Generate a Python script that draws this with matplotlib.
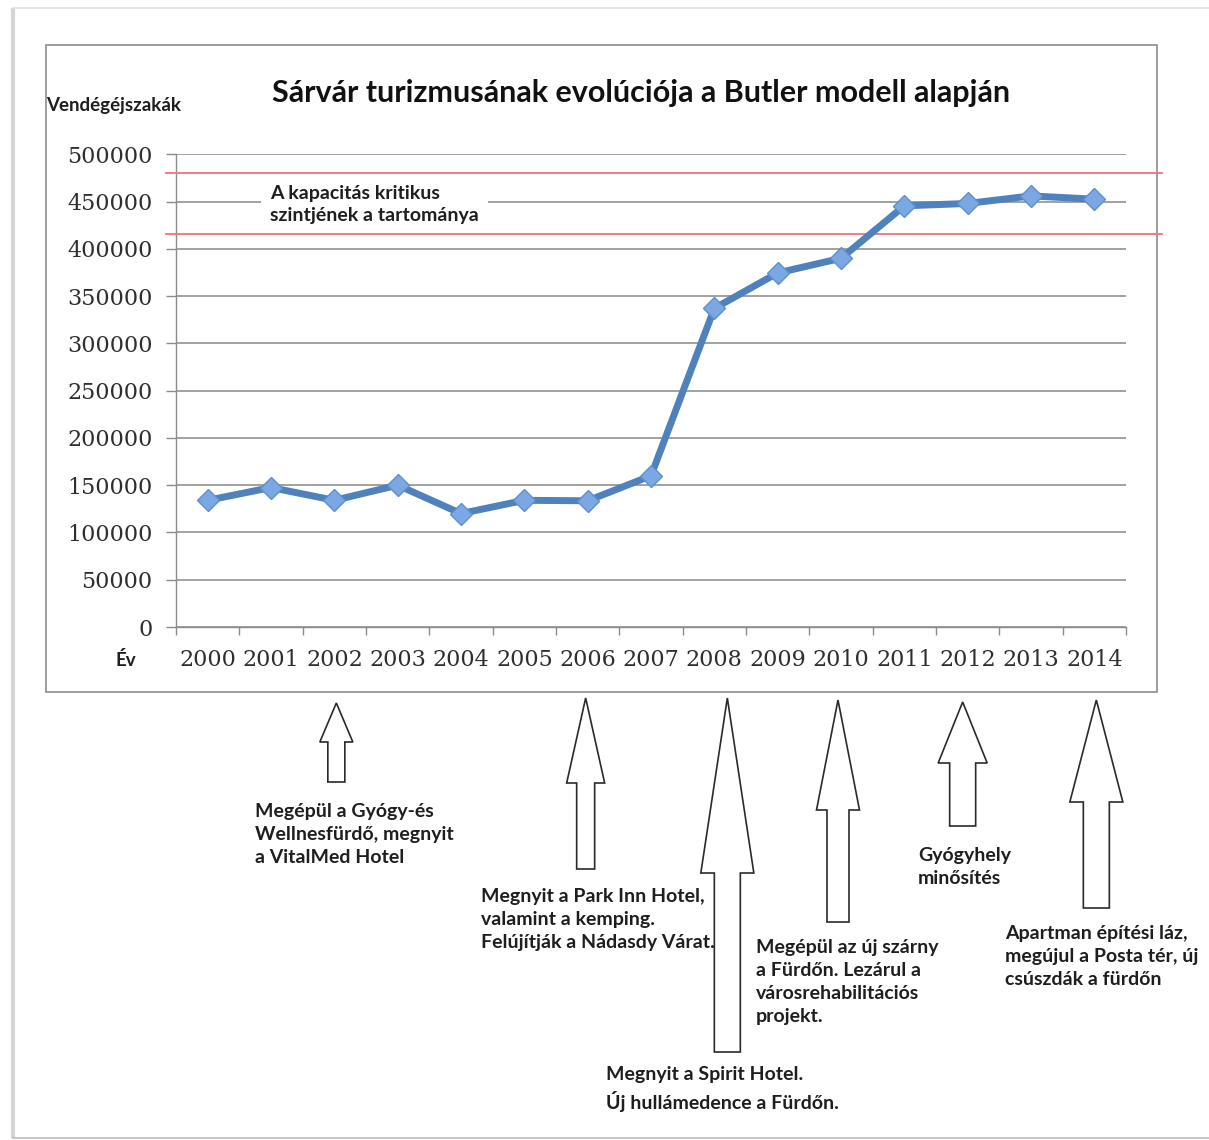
import matplotlib.pyplot as plt
from matplotlib.patches import Polygon, Rectangle
from matplotlib.transforms import blended_transform_factory

# Data
years = ['2000', '2001', '2002', '2003', '2004', '2005', '2006', '2007',
         '2008', '2009', '2010', '2011', '2012', '2013', '2014']
guest_nights = [134000, 147500, 134000, 150000, 120000, 134000, 133500, 160000,
                337000, 374500, 390000, 445500, 448000, 456000, 452500]
capacity_low = 415500
capacity_high = 480000
y_ticks = [0, 50000, 100000, 150000, 200000, 250000, 300000, 350000, 400000, 450000, 500000]

# Events below the chart
event_years = ['2002', '2006', '2008', '2010', '2012', '2014']
event_texts = [
    'Megépül a Gyógy-és\nWellnesfürdő, megnyit\na VitalMed Hotel',
    'Megnyit a Park Inn Hotel,\nvalamint a kemping.\nFelújítják a Nádasdy Várat.',
    'Megnyit a Spirit Hotel.\nÚj hullámedence a Fürdőn.',
    'Megépül az új szárny\na Fürdőn. Lezárul a\nvárosrehabilitációs\nprojekt.',
    'Gyógyhely\nminősítés',
    'Apartman építési láz,\nmegújul a Posta tér, új\ncsúszdák a fürdőn',
]

W, H = 1209, 1140
SANS = ['Lato', 'DejaVu Sans']
TXT = '#1e1e1e'

fig = plt.figure(figsize=(W / 100, H / 100), dpi=100)

# pixel overlay for frames, arrows and notes
ov = fig.add_axes([0, 0, 1, 1], zorder=0)
ov.set_xlim(0, W)
ov.set_ylim(H, 0)
ov.axis('off')

# outer picture frame
ov.plot([13, 13], [8, 1138], color='#d4d4d4', lw=3, solid_capstyle='butt')
ov.plot([13, W], [8, 8], color='#e2e2e2', lw=1.2)
ov.plot([13, W], [1138, 1138], color='#c8c8c8', lw=1.5)
# chart border
ov.add_patch(Rectangle((46, 45), 1111, 647, fill=False, ec='#8c8c8c', lw=1.2))

ax = fig.add_axes([176 / W, 1 - 627 / H, 950 / W, 472.7 / H], zorder=2)
ax.set_facecolor('none')
x = list(range(len(years)))

ax.set_ylim(0, 500000)
ax.set_xlim(-0.5, len(years) - 0.5)
ax.set_yticks(y_ticks)
ax.set_yticklabels([str(v) for v in y_ticks])
ax.set_xticks(x)
ax.set_xticklabels(years)
ax.set_xticks([i - 0.5 for i in range(len(years) + 1)], minor=True)
ax.tick_params(axis='x', which='major', length=0, pad=16)
ax.tick_params(axis='x', which='minor', length=6, color='#8c8c8c', width=1)
ax.tick_params(axis='y', length=7, color='#8c8c8c', width=1, pad=10)
for lab in ax.get_xticklabels() + ax.get_yticklabels():
    lab.set_fontfamily('DejaVu Serif')
    lab.set_fontsize(16)
    lab.set_color('#2e2e2e')

ax.grid(axis='y', color='#9a9a9a', lw=1.3)
ax.set_axisbelow(True)
for s in ['top', 'right']:
    ax.spines[s].set_visible(False)
for s in ['left', 'bottom']:
    ax.spines[s].set_color('#8c8c8c')
    ax.spines[s].set_linewidth(1)

# critical capacity band lines (stretch past the plot area)
trans = blended_transform_factory(fig.transFigure, ax.transData)
for lvl in [capacity_high, capacity_low]:
    ax.plot([166 / W, 1162 / W], [lvl, lvl], color='#f2707c', lw=1.3,
            transform=trans, clip_on=False, zorder=3)

band_trans = blended_transform_factory(ax.transAxes, ax.transData)
ax.text(0.099, 447000, 'A kapacitás kritikus\nszintjének a tartománya',
        transform=band_trans, fontsize=14, fontweight='bold', family=SANS, color=TXT,
        va='center', ha='left', linespacing=1.4, zorder=4,
        bbox=dict(boxstyle='square,pad=0.45', fc='white', ec='none'))

ax.plot(x, guest_nights, color='#4f81bd', lw=5, marker='D', ms=11,
        mfc='#7ba7e3', mec='#5d8fd2', mew=1, zorder=5)

fig.text(641 / W, 1 - 93 / H, 'Sárvár turizmusának evolúciója a Butler modell alapján',
         fontsize=22, fontweight='bold', family=SANS, ha='center', va='center', color='#111111')
fig.text(46 / W, 1 - 105 / H, 'Vendégéjszakák', fontsize=13.5, fontweight='bold',
         family=SANS, ha='left', va='center', color=TXT)
fig.text(126 / W, 1 - 660 / H, 'Év', fontsize=13.5, fontweight='bold',
         family=SANS, ha='center', va='center', color=TXT)

# arrows: (x offset px, tip y, head base y, head half width, shaft half width, bottom y)
arrow_shapes = [
    (2, 703, 742, 16.5, 8.5, 782),
    (-2, 698, 783, 19, 9, 869),
    (13, 698, 873, 26.5, 13, 1052),
    (-3, 700, 810, 21.5, 11, 922),
    (-5, 702, 763, 24.5, 13, 826),
    (2, 700, 802, 26.5, 13, 908),
]
note_pos = [(255, 803), (481, 888), (606, 1066), (756, 939), (918, 847), (1005, 925)]

fig.canvas.draw()
for yr, shp, txt, (tx, ty) in zip(event_years, arrow_shapes, event_texts, note_pos):
    cx = ax.transData.transform((years.index(yr), 0))[0] + shp[0]
    tip, hb, hw, sw, bt = shp[1:]
    pts = [(cx, tip), (cx + hw, hb), (cx + sw, hb), (cx + sw, bt),
           (cx - sw, bt), (cx - sw, hb), (cx - hw, hb)]
    ov.add_patch(Polygon(pts, closed=True, fc='white', ec='#2a2a2a', lw=1.2))
    ov.text(tx, ty, txt, fontsize=14, fontweight='bold', family=SANS,
            color=TXT, ha='left', va='top', linespacing=1.42)

fig.savefig('out.png', dpi=100, facecolor='white')
